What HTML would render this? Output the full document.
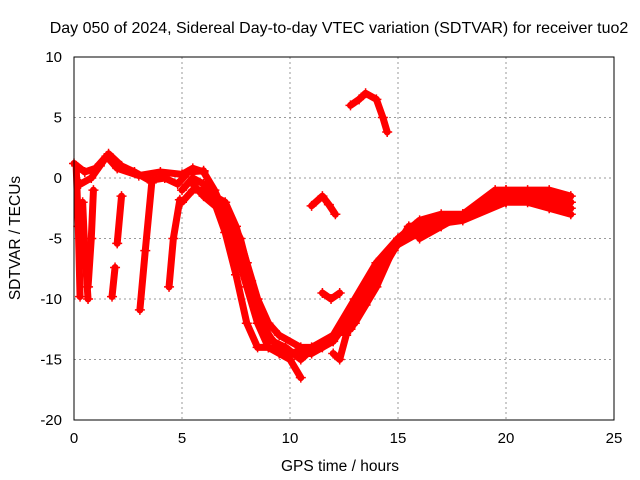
<!DOCTYPE html>
<html><head><meta charset="utf-8"><style>
body{margin:0;background:#fff}
svg{display:block;font-family:"Liberation Sans",sans-serif}
</style></head><body>
<svg id="c" width="640" height="480">
<text x="339" y="33" text-anchor="middle" font-size="16">Day 050 of 2024, Sidereal Day-to-day VTEC variation (SDTVAR) for receiver tuo2</text>
<text x="340" y="471" text-anchor="middle" font-size="15.5">GPS time / hours</text>
<text transform="translate(20,238) rotate(-90)" text-anchor="middle" font-size="15.5">SDTVAR / TECUs</text>
<g id="grid"></g><g id="marks"></g>
<rect x="74" y="57" width="540" height="363" fill="none" stroke="#000" stroke-width="1"/>
</svg>
<script>
const xTicks=[0,5,10,15,20,25];
const yTicks=[10,5,0,-5,-10,-15,-20];
const s1=[[0,1.2],[0.5,0.5],[1,0.8],[1.5,1.8],[2,0.8],[3,0.2],[4,0.5],[5,0.3],[5.5,0.8],[6,0.5],[6.5,-1],[7,-3],[7.5,-6],[8,-9],[8.5,-12],[9,-14],[9.5,-14.5],[10,-15],[10.5,-16.5]];
const s1b=[[0.3,-0.5],[0.8,0],[1.2,1],[1.6,2],[2.2,1],[2.8,0.5],[3.5,-0.2],[4.2,0],[4.8,-0.5],[5.3,0.5],[6,0.6]];
const s2=[[5,-1],[5.5,0],[6,-0.5],[6.5,-2],[7,-4.5],[7.5,-8],[8,-12],[8.5,-14],[9,-14],[10,-14.5],[11,-14],[12,-13],[13,-12],[14,-9],[15,-5],[16,-4],[18,-3.5],[20,-2],[23,-2]];
const s3=[[5.5,-0.5],[6,-1.5],[7,-3],[7.5,-5],[8,-8],[8.5,-11],[9,-13],[9.5,-14],[10,-14.5],[11,-14.5],[12,-13.5],[13,-11],[14,-8],[14.5,-6.5],[15,-5.5],[16,-4.5],[17,-3.5],[18,-3],[19,-2],[20,-1.5],[21,-1.5],[22,-1.5],[23,-2]];
const s4=[[5,-2],[5.5,-1],[6,-1],[6.5,-1.5],[7,-2],[7.5,-4],[8,-7],[8.5,-10],[9,-12],[9.5,-13],[10.5,-14],[11.5,-14],[12,-13],[13,-10],[14,-7],[15,-5],[16,-3.5],[17,-3],[18,-3],[19,-2],[20,-1],[21,-1],[22,-1],[23,-1.5]];
const s5=[[16,-5],[17,-4],[18,-3],[19.5,-1],[20,-1],[21,-2],[22,-2.5],[23,-3]];
const s6=[[6.2,-0.8],[7,-2.5],[7.7,-5],[8.2,-8.5],[8.7,-12],[9.2,-13.5],[9.8,-14],[10.5,-15],[11,-14.2],[12,-13],[12.8,-12.5],[13.5,-10.5],[14.3,-7.5],[14.8,-6],[15.5,-4],[16.5,-3.8],[18,-3.2],[19,-2.5],[20,-2],[21,-1.2],[22,-2],[23,-2.5]];
const dips=[[[0.1,1],[0.2,-4],[0.28,-9.8]],[[0.4,-2],[0.5,-6],[0.65,-10]],[[0.65,-9],[0.8,-5],[0.9,-1]],[[1.76,-9.8],[1.9,-7.4]],[[2.0,-5.4],[2.2,-1.5]],[[3.05,-10.9],[3.3,-6],[3.6,-0.4]],[[4.4,-9],[4.6,-5],[4.9,-1.8]]];
const islands=[[[11,-2.3],[11.5,-1.5],[11.8,-2.2],[12.1,-3]],[[12.8,6],[13.2,6.5],[13.5,7],[14,6.5],[14.3,5],[14.5,3.8]],[[11.5,-9.5],[11.9,-10],[12.3,-9.5]],[[12,-14.5],[12.3,-15],[12.6,-13],[12.9,-11.5]]];
const X=v=>74+v*21.6, Y=v=>178-v*12.1;
const NS="http://www.w3.org/2000/svg";
const g=document.getElementById('grid'), m=document.getElementById('marks');
function el(t,a,p){const e=document.createElementNS(NS,t);for(const k in a)e.setAttribute(k,a[k]);p.appendChild(e);return e;}
xTicks.forEach(v=>{
 if(v>0&&v<25){const l=el('line',{x1:X(v),x2:X(v),y1:57,y2:420,stroke:'#999','stroke-dasharray':'2,3'},g);
 
 }
 const t=el('text',{x:X(v),y:443,'text-anchor':'middle','font-size':15},g);t.textContent=v;
 
 
});
yTicks.forEach(v=>{
 if(v>-20&&v<10){const l=el('line',{x1:74,x2:614,y1:Y(v),y2:Y(v),stroke:'#999','stroke-dasharray':'2,3'},g);
 
 }
 const t=el('text',{x:62,y:Y(v)+5,'text-anchor':'end','font-size':15},g);t.textContent=v;
 
 
});
function draw(pts,name){
 const p=el('polyline',{points:pts.map(q=>X(q[0])+','+Y(q[1])).join(' '),fill:'none',stroke:'#f00','stroke-width':7,'stroke-linejoin':'round','stroke-linecap':'round'},m);
 
 
 pts.forEach(q=>{const x=X(q[0]),y=Y(q[1]);
  const c=el('path',{d:`M${x-5},${y}h10M${x},${y-5}v10`,stroke:'#f00','stroke-width':1.5},m);
  
  });
}
[s1,s1b,s2,s3,s4,s5,s6].forEach((s,i)=>draw(s,'trace-'+(i+1)));
dips.forEach(s=>draw(s,'dip-trace'));
islands.forEach(s=>draw(s,'island-trace'));
</script>
</body></html>
